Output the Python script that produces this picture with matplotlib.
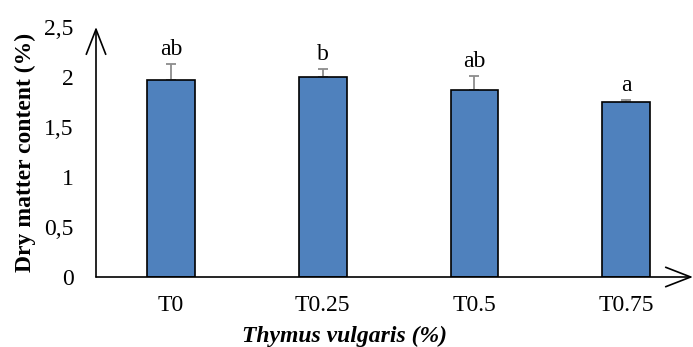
import matplotlib.pyplot as plt
import numpy as np

plt.rcParams['font.family'] = ['Liberation Serif', 'DejaVu Serif']

#values
groups = ['T0', 'T0.25', 'T0.5', 'T0.75']
dry_matter = [1.97, 2.00, 1.87, 1.75]
sd = [0.16, 0.08, 0.14, 0.02]
letters = ['ab', 'b', 'ab', 'a']
yticks = [0, 0.5, 1, 1.5, 2, 2.5]
ytick_labels = ['0', '0,5', '1', '1,5', '2', '2,5']

FS = 17

fig = plt.figure(figsize=(6.93, 3.47), dpi=100)
ax = fig.add_axes([96/693, 1 - 277/347, 594/693, 250/347])

x = np.arange(len(groups))
ax.bar(x, dry_matter, width=0.315, color='#4f81bd', edgecolor='black', linewidth=1.2, zorder=2)
ax.errorbar(x, dry_matter, yerr=[np.zeros(len(sd)), sd], fmt='none',
	ecolor='#8c8c8c', elinewidth=1.3, capsize=3.6, capthick=1.3, zorder=1)

for i in range(len(groups)):
	ax.annotate(letters[i], (x[i], dry_matter[i] + sd[i]), xytext=(0, 3),
		textcoords='offset points', ha='center', va='bottom', fontsize=FS)

ax.set_xlim(-0.494, 3.42)
ax.set_ylim(0, 2.5)
ax.set_xticks(x)
ax.set_xticklabels(groups)
ax.set_yticks(yticks)
ax.set_yticklabels(ytick_labels)
ax.tick_params(length=0, labelsize=FS)
ax.tick_params(axis='y', pad=16)
ax.tick_params(axis='x', pad=13)
for s in ax.spines.values():
	s.set_visible(False)

#axes drawn as open arrows
arrow = dict(arrowstyle='->,head_length=1.8,head_width=0.7', lw=1.2, color='black',
	shrinkA=0, shrinkB=0, mutation_scale=10)
ax.annotate('', xy=(0, 1.0), xytext=(0, 0), xycoords='axes fraction', arrowprops=arrow)
ax.annotate('', xy=(1.005, 0), xytext=(0, 0), xycoords='axes fraction', arrowprops=arrow,
	annotation_clip=False)

ax.set_ylabel('Dry matter content (%)', fontsize=FS, fontweight='bold')
ax.yaxis.set_label_coords(-60/594, 0.5)
ax.set_xlabel('Thymus vulgaris (%)', fontsize=FS, fontweight='bold', style='italic')
ax.xaxis.set_label_coords(249/594, -49/250)

fig.savefig('out.png', dpi=100)
